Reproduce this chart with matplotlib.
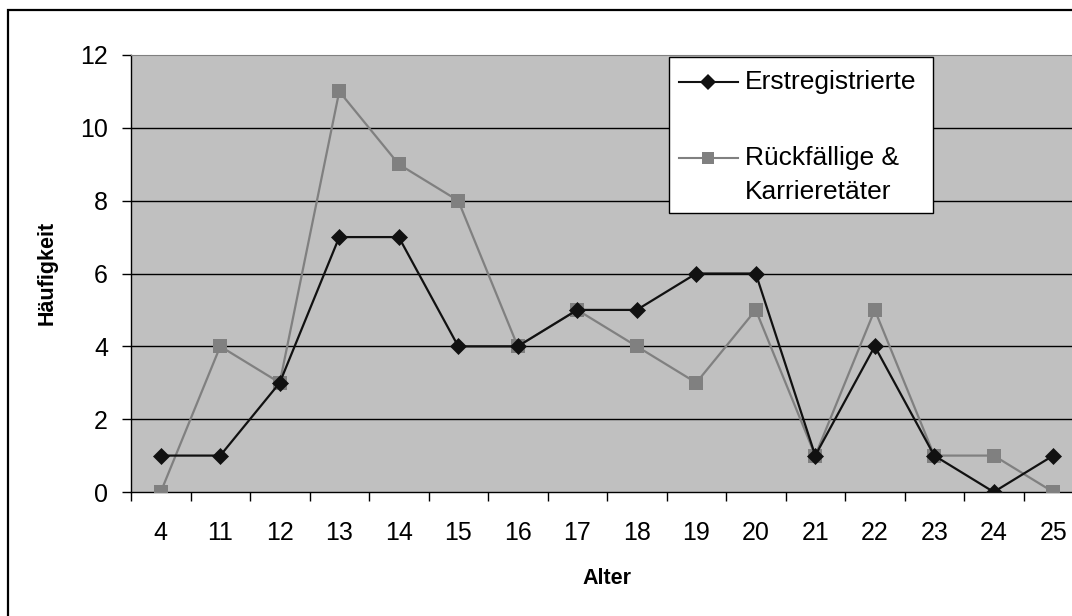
import matplotlib
matplotlib.use("Agg")
import matplotlib.pyplot as plt
from matplotlib.lines import Line2D
from matplotlib.patches import Rectangle

plt.rcParams["font.family"] = ["Liberation Sans", "DejaVu Sans"]

alter = ["4", "11", "12", "13", "14", "15", "16", "17", "18", "19", "20",
         "21", "22", "23", "24", "25"]
erst = [1, 1, 3, 7, 7, 4, 4, 5, 5, 6, 6, 1, 4, 1, 0, 1]
rueck = [0, 4, 3, 11, 9, 8, 4, 5, 4, 3, 5, 1, 5, 1, 1, 0]

W, H = 1072, 616
BLACK = "#111111"
GREY = "#808080"


def fx(x):
    return x / W


def fy(y):
    return 1 - y / H


fig = plt.figure(figsize=(W / 100, H / 100), dpi=100)

# outer chart border (runs off the right and bottom of the picture)
fig.add_artist(Rectangle((fx(8), fy(700)), fx(1200), fy(10) - fy(700),
                         transform=fig.transFigure, fill=False,
                         edgecolor="black", linewidth=1.6))

left, top, bottom, right = 131, 55, 492, 1083
ax = fig.add_axes([fx(left), fy(bottom), fx(right - left), fy(top) - fy(bottom)])
ax.set_facecolor("#c0c0c0")

xs = [i + 0.5 for i in range(len(alter))]
ax.plot(xs, rueck, color=GREY, linewidth=1.6, marker="s", markersize=9.5,
        markerfacecolor=GREY, markeredgewidth=0, zorder=3)
ax.plot(xs, erst, color=BLACK, linewidth=1.6, marker="D", markersize=8.5,
        markerfacecolor=BLACK, markeredgewidth=0.5, markeredgecolor=BLACK,
        zorder=4)

ax.set_xlim(0, len(alter))
ax.set_ylim(0, 12)
ax.set_yticks(range(0, 13, 2))
ax.set_xticks(range(0, len(alter) + 1))
ax.set_xticklabels([])
ax.set_xticks(xs, minor=True)
ax.set_xticklabels(alter, minor=True)
ax.tick_params(axis="x", which="major", length=6.5, width=1, direction="out")
ax.tick_params(axis="x", which="minor", length=0, pad=21, labelsize=18)
ax.tick_params(axis="y", length=6.5, width=1, direction="out", pad=10, labelsize=18)
for yv in range(2, 12, 2):
    ax.axhline(yv, color="black", linewidth=1, zorder=1)

ax.spines["top"].set_color(GREY)
ax.spines["right"].set_visible(False)
ax.spines["left"].set_linewidth(1)
ax.spines["bottom"].set_linewidth(1)

ax.set_xlabel("Alter", fontsize=15.5, fontweight="bold", va="center")
ax.set_ylabel("Häufigkeit", fontsize=15.5, fontweight="bold", va="center")
ax.xaxis.set_label_coords(fx(607), fy(578), transform=fig.transFigure)
ax.yaxis.set_label_coords(fx(47), fy(273), transform=fig.transFigure)

# legend drawn as in the original, handle aligned with first text line
fig.add_artist(Rectangle((fx(669), fy(213)), fx(933 - 669), fy(57) - fy(213),
                         transform=fig.transFigure, facecolor="white",
                         edgecolor="black", linewidth=1, zorder=5))
entries = [
    (82, BLACK, "D", 8, ["Erstregistrierte"]),
    (158, GREY, "s", 9, ["Rückfällige &", "Karrieretäter"]),
]
for ly, col, mk, ms, lines in entries:
    fig.add_artist(Line2D([fx(679), fx(738)], [fy(ly), fy(ly)],
                          transform=fig.transFigure, color=col, linewidth=1.5,
                          zorder=6))
    fig.add_artist(Line2D([fx(708)], [fy(ly)], transform=fig.transFigure,
                          color=col, marker=mk, markersize=ms, markeredgewidth=0,
                          linestyle="none", zorder=6))
    for k, line in enumerate(lines):
        fig.text(fx(745), fy(ly + 34 * k), line, fontsize=19, va="center",
                 ha="left", zorder=6)

fig.savefig("out.png", dpi=100)
